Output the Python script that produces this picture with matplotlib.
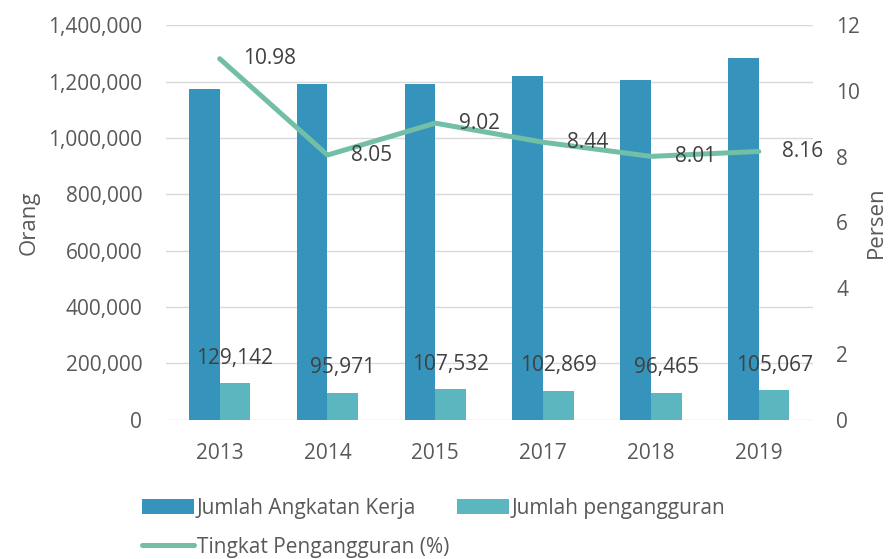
import matplotlib.pyplot as plt
import numpy as np
from matplotlib.ticker import FuncFormatter

plt.rcParams['font.family'] = ['Open Sans', 'DejaVu Sans']

years = ['2013', '2014', '2015', '2017', '2018', '2019']
angkatan_kerja = [1175000, 1193000, 1193000, 1220000, 1204000, 1285000]
pengangguran = [129142, 95971, 107532, 102869, 96465, 105067]
tingkat = [10.98, 8.05, 9.02, 8.44, 8.01, 8.16]

c_dark = '#3694bc'
c_light = '#5bb6bf'
c_line = '#73bfa6'
c_text = '#595959'
c_label = '#404040'

fig = plt.figure(figsize=(8.96, 5.59), dpi=100)
ax = fig.add_axes([0.185, 0.249, 0.722, 0.706])
ax2 = ax.twinx()

x = np.arange(len(years))
w = 0.285
b1 = ax.bar(x - w / 2, angkatan_kerja, w, color=c_dark, label='Jumlah Angkatan Kerja', zorder=2)
b2 = ax.bar(x + w / 2, pengangguran, w, color=c_light, label='Jumlah pengangguran', zorder=2)
for xi, v in zip(x, pengangguran):
    ax.annotate(f'{v:,}', (xi + w / 2, v), xytext=(0, 18), textcoords='offset points',
                ha='center', va='center', fontsize=15, color=c_label)

ln, = ax2.plot(x, tingkat, color=c_line, lw=3.6, solid_capstyle='round',
               label='Tingkat Pengangguran (%)', zorder=3)
for xi, v in zip(x, tingkat):
    ax2.annotate(f'{v:.2f}', (xi, v), xytext=(17, 0), textcoords='offset points',
                 ha='left', va='center', fontsize=15, color=c_label)

ax.set_xlim(-0.5, len(years) - 0.5)
ax.set_ylim(0, 1400000)
ax.set_yticks(np.arange(0, 1400001, 200000))
ax.yaxis.set_major_formatter(FuncFormatter(lambda v, p: f'{int(v):,}'))
ax2.set_ylim(0, 12)
ax2.set_yticks(np.arange(0, 13, 2))

ax.set_xticks(x)
ax.set_xticklabels(years)
ax.grid(axis='y', color='#d9d9d9', lw=1, zorder=0)
ax.set_axisbelow(True)
for a in (ax, ax2):
    for s in a.spines.values():
        s.set_visible(False)
    a.tick_params(length=0, labelsize=15, colors=c_text)
ax.tick_params(axis='x', pad=17)
ax.tick_params(axis='y', pad=17)
ax2.tick_params(axis='y', pad=17)

ax.set_ylabel('Orang', fontsize=16, color=c_text, labelpad=6)
ax2.set_ylabel('Persen', fontsize=16, color=c_text, labelpad=4)

fig.legend([b1, ln, b2], ['Jumlah Angkatan Kerja', 'Tingkat Pengangguran (%)', 'Jumlah pengangguran'],
           ncol=2, loc='upper left', bbox_to_anchor=(0.149, 0.124), frameon=False,
           fontsize=15, labelcolor=c_text, handlelength=2.5, handletextpad=0.15,
           columnspacing=0.35, labelspacing=0.85, borderaxespad=0)

fig.savefig('out.png', dpi=100)
